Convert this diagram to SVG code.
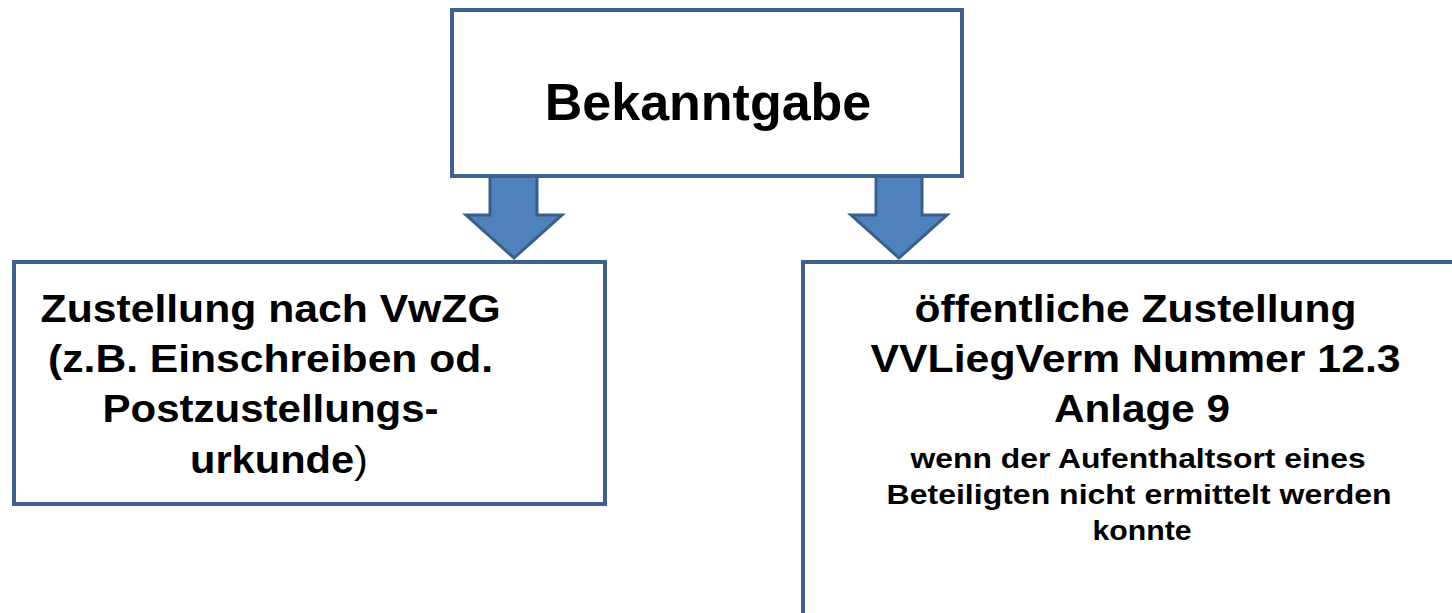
<svg xmlns="http://www.w3.org/2000/svg" width="1452" height="613" viewBox="0 0 1452 613">
<style>
.box{fill:#ffffff;stroke:#3d6190;stroke-width:4}
.arr{fill:#4f81bd;stroke:#3a5f8b;stroke-width:3;stroke-linejoin:miter}
.t{font-family:"Liberation Sans",Arial,sans-serif;font-weight:bold;fill:#000;text-anchor:middle}
</style>
<rect width="1452" height="613" fill="#ffffff"/>
<g id="connectors">
<polygon class="arr" points="490,176 537,176 537,215 562,215 514,258 466,215 490,215"/>
<polygon class="arr" points="876,176 922,176 922,215 947,215 899,258 851,215 876,215"/>
</g>
<g id="node-bekanntgabe">
<rect class="box" x="452" y="10" width="510" height="166"/>
<text class="t" x="708" y="120" font-size="52">Bekanntgabe</text>
</g>
<g id="node-zustellung">
<rect class="box" x="14" y="262" width="591" height="242"/>
<text class="t" font-size="39">
<tspan x="276" y="322" textLength="460" lengthAdjust="spacingAndGlyphs">Zustellung nach VwZG</tspan>
<tspan x="276" y="372" textLength="445" lengthAdjust="spacingAndGlyphs">(z.B. Einschreiben od.</tspan>
<tspan x="276" y="422" textLength="336" lengthAdjust="spacingAndGlyphs">Postzustellungs-</tspan>
<tspan x="279" y="473" textLength="178" lengthAdjust="spacingAndGlyphs">urkunde<tspan font-weight="normal">)</tspan></tspan>
</text>
</g>
<g id="node-oeffentlich">
<rect class="box" x="803" y="262" width="700" height="400"/>
<text class="t" font-size="39">
<tspan x="1141" y="322" textLength="442" lengthAdjust="spacingAndGlyphs">öffentliche Zustellung</tspan>
<tspan x="1141" y="372" textLength="530" lengthAdjust="spacingAndGlyphs">VVLiegVerm Nummer 12.3</tspan>
<tspan x="1142" y="422" textLength="176" lengthAdjust="spacingAndGlyphs">Anlage 9</tspan>
</text>
<text class="t" font-size="28">
<tspan x="1142" y="468" textLength="455" lengthAdjust="spacingAndGlyphs">wenn der Aufenthaltsort eines</tspan>
<tspan x="1143" y="504" textLength="505" lengthAdjust="spacingAndGlyphs">Beteiligten nicht ermittelt werden</tspan>
<tspan x="1142" y="540" textLength="99" lengthAdjust="spacingAndGlyphs">konnte</tspan>
</text>
</g>
</svg>
